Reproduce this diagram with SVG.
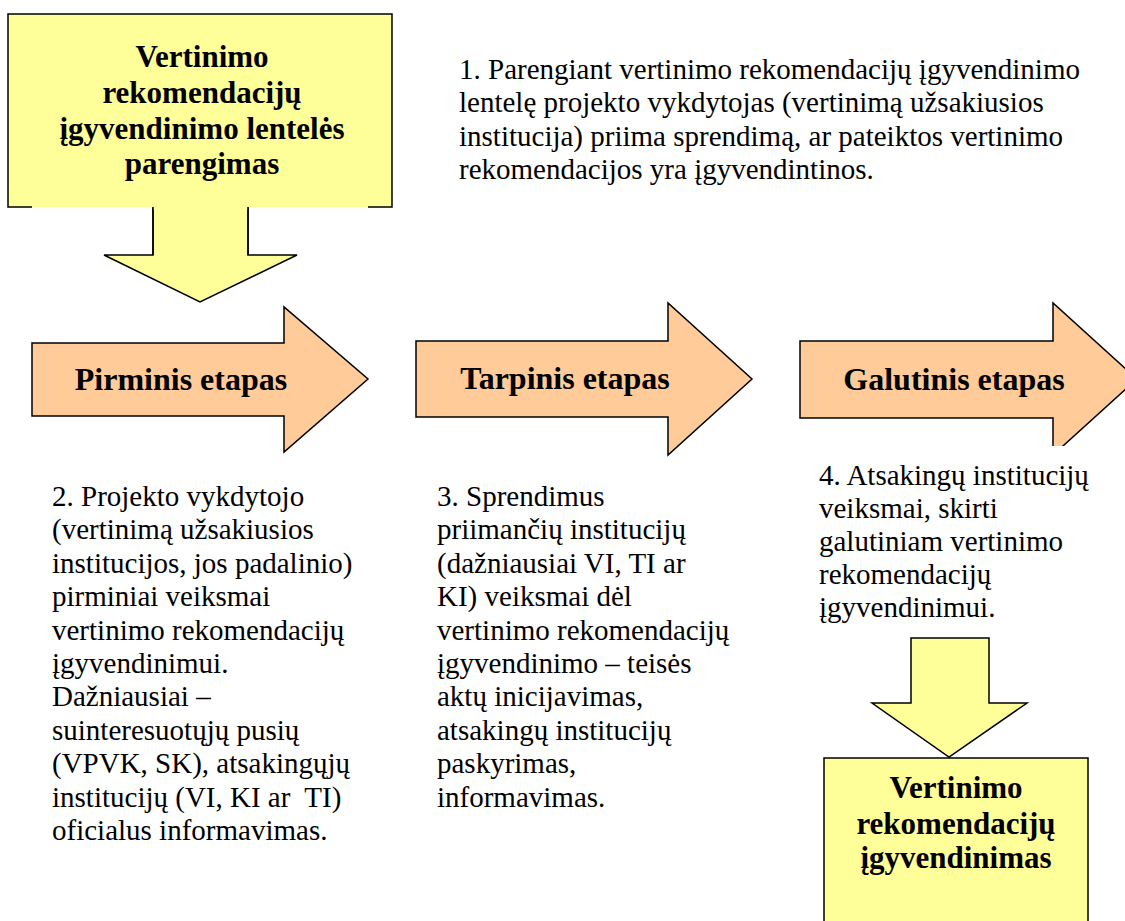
<svg xmlns="http://www.w3.org/2000/svg" width="1125" height="921" viewBox="0 0 1125 921">
<style>
.box{fill:#FFFF99;stroke:#000;stroke-width:1.5}
.yel{fill:#FFFF99;stroke:#000;stroke-width:1.5;stroke-linejoin:miter}
.arr{fill:#FFCC99;stroke:#000;stroke-width:1.5;stroke-linejoin:miter}
.ln{fill:none;stroke:#000;stroke-width:1.5}
.bt{font-weight:bold;font-size:31px;fill:#000;text-anchor:middle}
.at{font-weight:bold;font-size:32px;fill:#000;text-anchor:middle}
.tx{font-size:29px;fill:#000}
</style>
<defs>
<clipPath id="clipR"><rect x="0" y="0" width="1125" height="446"/></clipPath>
</defs>
<rect width="1125" height="921" fill="#fff"/>

<g id="connectors">
  <path class="yel" d="M153,207 L153,255 L104,255 L200,302 L297,255 L248,255 L248,207"/>
  <path class="yel" d="M911,638 L989,638 L989,703 L1027,703 L949,757 L872,703 L911,703 Z"/>
</g>

<g id="labels" font-family="Liberation Serif, Tinos, Times New Roman, DejaVu Serif, serif">
<g id="node-top">
  <rect x="8" y="14" width="384" height="193" fill="#FFFF99"/>
  <path class="ln" d="M32,207 L8,207 L8,14 L392,14 L392,207 L368,207"/>
  <path d="M153,205 L248,205 L248,210 L153,210 Z" fill="#FFFF99"/>
  <path class="ln" d="M153,207 L153,255 M248,207 L248,255"/>
  <text class="bt" x="202" y="67">Vertinimo</text>
  <text class="bt" x="202" y="103">rekomendacijų</text>
  <text class="bt" x="202" y="139">įgyvendinimo lentelės</text>
  <text class="bt" x="202" y="174">parengimas</text>
</g>

<g id="note-1">
  <text class="tx" x="459" y="79">1. Parengiant vertinimo rekomendacijų įgyvendinimo</text>
  <text class="tx" x="459" y="112.4">lentelę projekto vykdytojas (vertinimą užsakiusios</text>
  <text class="tx" x="459" y="145.8">institucija) priima sprendimą, ar pateiktos vertinimo</text>
  <text class="tx" x="459" y="179.2">rekomendacijos yra įgyvendintinos.</text>
</g>

<g id="node-pirminis">
  <path class="arr" d="M32,343 L284,343 L284,307 L368,379 L284,452 L284,416 L32,416 Z"/>
  <text class="at" x="181" y="390">Pirminis etapas</text>
</g>

<g id="node-tarpinis">
  <path class="arr" d="M416,341 L668,341 L668,303 L752,379 L668,455 L668,417 L416,417 Z"/>
  <text class="at" x="565" y="389">Tarpinis etapas</text>
</g>

<g id="node-galutinis">
  <path class="arr" clip-path="url(#clipR)" d="M800,341 L1053,341 L1053,303 L1137,379 L1053,455 L1053,418 L800,418 Z"/>
  <text class="at" x="954" y="390">Galutinis etapas</text>
</g>

<g id="note-2">
  <text class="tx" x="52" y="506">2. Projekto vykdytojo</text>
  <text class="tx" x="52" y="539.4">(vertinimą užsakiusios</text>
  <text class="tx" x="52" y="572.8">institucijos, jos padalinio)</text>
  <text class="tx" x="52" y="606.2">pirminiai veiksmai</text>
  <text class="tx" x="52" y="639.6">vertinimo rekomendacijų</text>
  <text class="tx" x="52" y="673">įgyvendinimui.</text>
  <text class="tx" x="52" y="706.4">Dažniausiai –</text>
  <text class="tx" x="52" y="739.8">suinteresuotųjų pusių</text>
  <text class="tx" x="52" y="773.2">(VPVK, SK), atsakingųjų</text>
  <text class="tx" x="52" y="806.6" xml:space="preserve">institucijų (VI, KI ar  TI)</text>
  <text class="tx" x="52" y="840">oficialus informavimas.</text>
</g>

<g id="note-3">
  <text class="tx" x="437" y="506">3. Sprendimus</text>
  <text class="tx" x="437" y="539.4">priimančių institucijų</text>
  <text class="tx" x="437" y="572.8">(dažniausiai VI, TI ar</text>
  <text class="tx" x="437" y="606.2">KI) veiksmai dėl</text>
  <text class="tx" x="437" y="639.6">vertinimo rekomendacijų</text>
  <text class="tx" x="437" y="673">įgyvendinimo – teisės</text>
  <text class="tx" x="437" y="706.4">aktų inicijavimas,</text>
  <text class="tx" x="437" y="739.8">atsakingų institucijų</text>
  <text class="tx" x="437" y="773.2">paskyrimas,</text>
  <text class="tx" x="437" y="806.6">informavimas.</text>
</g>

<g id="note-4">
  <text class="tx" x="819" y="485">4. Atsakingų institucijų</text>
  <text class="tx" x="819" y="518">veiksmai, skirti</text>
  <text class="tx" x="819" y="551">galutiniam vertinimo</text>
  <text class="tx" x="819" y="584">rekomendacijų</text>
  <text class="tx" x="819" y="617">įgyvendinimui.</text>
</g>

<g id="node-bottom">
  <rect class="box" x="824" y="758" width="264" height="180"/>
  <text class="bt" x="956" y="798">Vertinimo</text>
  <text class="bt" x="956" y="834">rekomendacijų</text>
  <text class="bt" x="956" y="868">įgyvendinimas</text>
</g>
</g>
</svg>
